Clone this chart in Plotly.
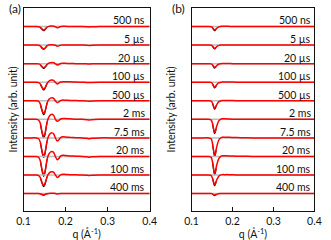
import plotly.graph_objects as go

labels = ["500 ns", "5 µs", "20 µs", "100 µs", "500 µs", "2 ms", "7.5 ms", "20 ms", "100 ms", "400 ms"]

q_a = [0.100, 0.120, 0.130, 0.136, 0.140, 0.143, 0.146, 0.148, 0.150, 0.153, 0.156, 0.160, 0.164, 0.168, 0.172,
       0.176, 0.180, 0.184, 0.188, 0.194, 0.200, 0.210, 0.225, 0.240, 0.250, 0.256, 0.262, 0.280, 0.320, 0.360, 0.400]

fit_a = [
    [0, 0, 0, -0.01, -0.05, -0.11, -0.17, -0.18, -0.17, -0.10, -0.03, 0.01, 0.03, 0.03, 0.02, -0.01, -0.07, -0.04, 0.0, 0.01, 0.01, 0.0, 0.0, 0, -0.01, -0.02, -0.01, 0, 0, 0, 0],
    [0, 0, 0, -0.01, -0.05, -0.12, -0.18, -0.19, -0.18, -0.11, -0.03, 0.01, 0.02, 0.02, 0.01, -0.01, -0.06, -0.04, 0.0, 0.01, 0.01, 0.0, 0.0, 0, -0.01, -0.02, -0.01, 0, 0, 0, 0],
    [0, 0, 0, -0.01, -0.06, -0.14, -0.20, -0.22, -0.20, -0.13, -0.04, 0.03, 0.05, 0.06, 0.05, -0.01, -0.07, -0.04, 0.01, 0.02, 0.02, 0.01, 0.0, 0, -0.01, -0.02, -0.01, 0, 0, 0, 0],
    [0, 0, 0, -0.02, -0.10, -0.23, -0.34, -0.37, -0.34, -0.21, -0.06, 0.05, 0.11, 0.12, 0.09, -0.01, -0.09, -0.05, 0.01, 0.03, 0.03, 0.02, 0.01, 0, -0.01, -0.02, -0.01, 0, 0, 0, 0],
    [0, 0, 0, -0.03, -0.18, -0.43, -0.63, -0.68, -0.63, -0.39, -0.11, 0.07, 0.14, 0.16, 0.12, -0.01, -0.10, -0.06, 0.01, 0.04, 0.03, 0.02, 0.01, 0, -0.01, -0.03, -0.01, 0, 0, 0, 0],
    [0, 0, 0, -0.05, -0.23, -0.57, -0.84, -0.90, -0.84, -0.52, -0.14, 0.12, 0.24, 0.27, 0.20, -0.01, -0.10, -0.06, 0.02, 0.05, 0.04, 0.03, 0.01, 0, -0.02, -0.04, -0.02, 0, 0, 0, 0],
    [0, 0, 0, -0.05, -0.25, -0.60, -0.88, -0.95, -0.88, -0.55, -0.15, 0.12, 0.24, 0.27, 0.20, -0.02, -0.17, -0.10, 0.02, 0.06, 0.05, 0.03, 0.01, 0, -0.02, -0.05, -0.02, 0, 0, 0, 0],
    [0, 0, 0, -0.05, -0.25, -0.60, -0.89, -0.96, -0.89, -0.56, -0.15, 0.12, 0.24, 0.27, 0.20, -0.02, -0.18, -0.11, 0.02, 0.06, 0.05, 0.03, 0.01, 0, -0.02, -0.05, -0.02, 0, 0, 0, 0],
    [0, 0, 0, -0.03, -0.14, -0.35, -0.51, -0.55, -0.51, -0.32, -0.09, 0.08, 0.16, 0.18, 0.14, -0.01, -0.14, -0.08, 0.01, 0.04, 0.03, 0.02, 0.01, 0, -0.01, -0.03, -0.01, 0, 0, 0, 0],
    [0, 0, 0, 0, -0.02, -0.04, -0.06, -0.06, -0.05, -0.03, -0.01, 0, 0.01, 0.01, 0.01, 0, -0.02, -0.01, 0, 0, 0, 0, 0, 0, 0, 0, 0, 0, 0, 0, 0],
]

q_dip_a = [0.140, 0.143, 0.146, 0.148, 0.150, 0.153, 0.156]
data_a = [
    [-0.06, -0.13, -0.20, -0.22, -0.19, -0.11, -0.03],
    [-0.06, -0.14, -0.21, -0.23, -0.20, -0.12, -0.03],
    [-0.07, -0.16, -0.23, -0.26, -0.22, -0.14, -0.04],
    [-0.11, -0.26, -0.38, -0.42, -0.37, -0.23, -0.06],
    [-0.20, -0.47, -0.69, -0.75, -0.68, -0.42, -0.11],
    [-0.25, -0.62, -0.92, -0.99, -0.91, -0.56, -0.14],
    [-0.27, -0.65, -0.97, -1.05, -0.95, -0.59, -0.15],
    [-0.27, -0.65, -0.98, -1.07, -0.96, -0.60, -0.15],
    [-0.15, -0.38, -0.57, -0.63, -0.56, -0.34, -0.09],
    [-0.02, -0.05, -0.08, -0.09, -0.07, -0.04, -0.01],
]

q_b = [0.100, 0.130, 0.142, 0.148, 0.151, 0.154, 0.156, 0.158, 0.160, 0.163, 0.166, 0.170, 0.175, 0.180,
       0.190, 0.200, 0.220, 0.250, 0.300, 0.350, 0.400]

fit_b = [
    [0, 0, 0, -0.01, -0.05, -0.14, -0.18, -0.17, -0.12, -0.07, -0.03, 0, 0.01, 0.01, 0.01, 0, 0, 0, 0, 0, 0],
    [0, 0, 0, -0.01, -0.05, -0.13, -0.17, -0.16, -0.12, -0.06, -0.03, 0, 0.01, 0.01, 0.01, 0, 0, 0, 0, 0, 0],
    [0, 0, 0, -0.01, -0.06, -0.15, -0.20, -0.18, -0.14, -0.08, -0.03, 0, 0.01, 0.01, 0.01, 0, 0, 0, 0, 0, 0],
    [0, 0, 0, -0.01, -0.08, -0.20, -0.27, -0.25, -0.18, -0.10, -0.04, -0.01, 0.01, 0.01, 0.01, 0.01, 0, 0, 0, 0, 0],
    [0, 0, 0, -0.02, -0.12, -0.30, -0.40, -0.37, -0.27, -0.15, -0.06, -0.01, 0.02, 0.02, 0.01, 0.01, 0, 0, 0, 0, 0],
    [0, 0, 0, -0.04, -0.21, -0.53, -0.70, -0.64, -0.48, -0.27, -0.10, -0.01, 0.03, 0.03, 0.02, 0.01, 0.01, 0, 0, 0, 0],
    [0, 0, 0, -0.05, -0.28, -0.69, -0.92, -0.85, -0.63, -0.35, -0.14, -0.02, 0.04, 0.04, 0.03, 0.02, 0.01, 0, 0, 0, 0],
    [0, 0, 0, -0.05, -0.27, -0.68, -0.90, -0.83, -0.61, -0.34, -0.14, -0.02, 0.04, 0.04, 0.03, 0.02, 0.01, 0, 0, 0, 0],
    [0, 0, 0, -0.03, -0.16, -0.39, -0.52, -0.48, -0.35, -0.20, -0.08, -0.01, 0.02, 0.02, 0.02, 0.01, 0, 0, 0, 0, 0],
    [0, 0, 0, 0, -0.02, -0.06, -0.08, -0.07, -0.05, -0.03, -0.01, 0, 0, 0, 0, 0, 0, 0, 0, 0, 0],
]

q_dip_b = [0.151, 0.154, 0.156, 0.158, 0.160]
data_b = [
    [-0.06, -0.17, -0.22, -0.20, -0.13],
    [-0.06, -0.16, -0.21, -0.19, -0.13],
    [-0.07, -0.18, -0.24, -0.21, -0.15],
    [-0.09, -0.23, -0.31, -0.28, -0.19],
    [-0.13, -0.34, -0.45, -0.41, -0.28],
    [-0.23, -0.58, -0.77, -0.70, -0.50],
    [-0.30, -0.75, -1.00, -0.92, -0.65],
    [-0.29, -0.74, -0.98, -0.90, -0.63],
    [-0.17, -0.43, -0.57, -0.52, -0.36],
    [-0.03, -0.08, -0.11, -0.09, -0.06],
]

x_ticks = [0.1, 0.2, 0.3, 0.4]
panel_names = ["(a)", "(b)"]
x_title = "q (Å<sup>-1</sup>)"
y_title = "Intensity (arb. unit)"

FONT = "Lato"
TXT = "#111"
n = len(labels)
fig = go.Figure()

panels = [("x", "y", q_a, fit_a, q_dip_a, data_a), ("x2", "y2", q_b, fit_b, q_dip_b, data_b)]
for xa, ya, q, fits, qd, datas in panels:
    for i in range(n):
        off = n - 1 - i
        fig.add_trace(go.Scatter(x=[q[0], q[-1]], y=[off, off], mode="lines",
                                 line=dict(color="#bdbdbd", width=1.5), xaxis=xa, yaxis=ya,
                                 hoverinfo="skip", showlegend=False))
        fig.add_trace(go.Scatter(x=qd, y=[v + off for v in datas[i]], mode="lines",
                                 line=dict(color="#111111", width=1.2, shape="spline"), xaxis=xa, yaxis=ya,
                                 showlegend=False))
        fig.add_trace(go.Scatter(x=q, y=[v + off for v in fits[i]], mode="lines",
                                 line=dict(color="#ff0000", width=1.5, shape="spline", smoothing=0.6),
                                 xaxis=xa, yaxis=ya, showlegend=False))

ann = []
for k, (xa, ya) in enumerate([("x", "y"), ("x2", "y2")]):
    for i, lab in enumerate(labels):
        off = n - 1 - i
        ann.append(dict(x=0.975 if k == 0 else 0.985, xref=f"{xa} domain", y=off + 0.33, yref=ya,
                        text=lab, showarrow=False, xanchor="right", yanchor="middle",
                        font=dict(family=FONT, size=10.5, color=TXT)))

ann.append(dict(x=0.0, xref="paper", y=1 - 9 / 240, yref="paper", yanchor="middle", xanchor="left",
                text=panel_names[0], showarrow=False, font=dict(family=FONT, size=12, color=TXT)))
ann.append(dict(x=170 / 331, xref="paper", y=1 - 9 / 240, yref="paper", yanchor="middle", xanchor="left",
                text=panel_names[1], showarrow=False, font=dict(family=FONT, size=12, color=TXT)))

ydom = [1 - 211 / 240, 1 - 8 / 240]
yr = [-0.94, 10.0]
axis_common = dict(showline=True, linecolor="#111", linewidth=1, mirror=True, showgrid=False, zeroline=False)

xcommon = dict(axis_common, range=[0.1, 0.4], tickvals=x_ticks, ticktext=[f"{t:.1f}" for t in x_ticks],
               ticks="inside", ticklen=4, tickcolor="#111",
               tickfont=dict(family=FONT, size=10.5, color=TXT),
               title=dict(text=x_title, font=dict(family=FONT, size=10.5, color=TXT), standoff=0))
ycommon = dict(axis_common, range=yr, showticklabels=False, ticks="", domain=ydom,
               title=dict(text=y_title, font=dict(family=FONT, size=10.5, color=TXT)))

fig.update_layout(
    width=331, height=240, margin=dict(l=0, r=0, t=0, b=0), autosize=False,
    paper_bgcolor="white", plot_bgcolor="white",
    xaxis=dict(xcommon, domain=[17.3 / 331, 149 / 331], anchor="y"),
    yaxis=dict(ycommon, anchor="x", title=dict(ycommon["title"], standoff=2)),
    xaxis2=dict(xcommon, domain=[192.7 / 331, 321 / 331], anchor="y2"),
    yaxis2=dict(ycommon, anchor="x2", title=dict(ycommon["title"], standoff=12)),
    annotations=ann,
)

fig.write_html("out.html", config={"displayModeBar": False},
               post_script="document.body.style.margin='0';document.body.style.overflow='hidden';"
                           "document.documentElement.style.overflow='hidden';")
